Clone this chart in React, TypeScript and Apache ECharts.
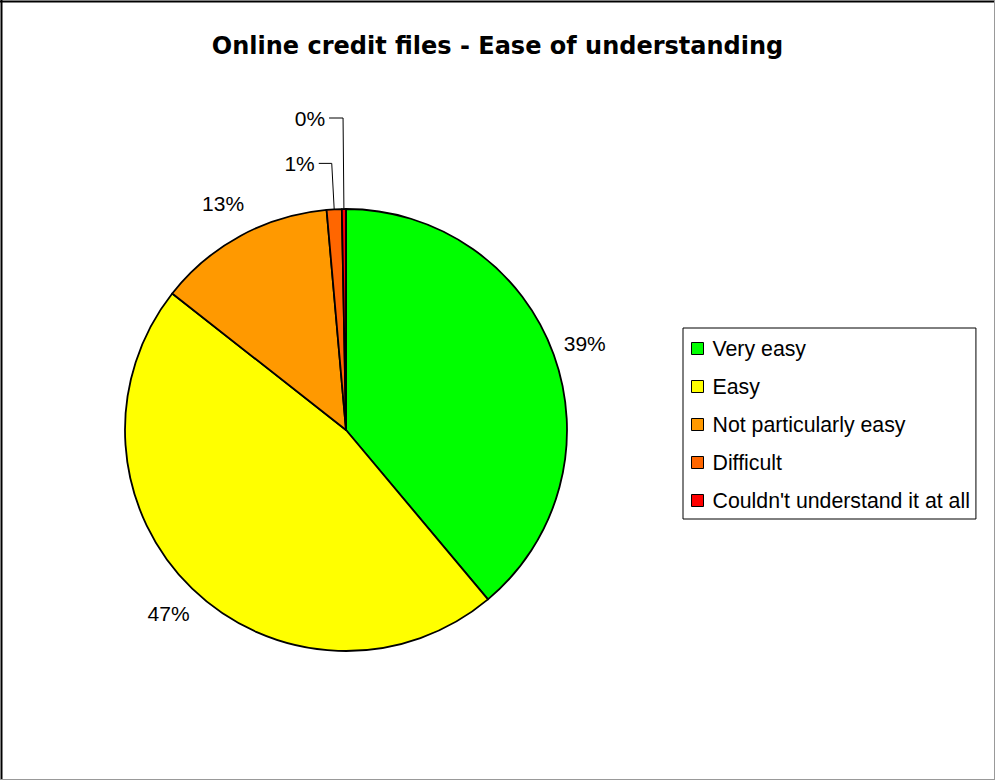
import React, { useEffect, useRef } from "react";
import * as echarts from "echarts";

// Survey answers, clockwise from 12 o'clock
const categories = [
  "Very easy",
  "Easy",
  "Not particularly easy",
  "Difficult",
  "Couldn't understand it at all",
];
const shares = [38.9, 46.7, 13.0, 1.1, 0.3];

const TITLE = "Online credit files - Ease of understanding";

// Styling
const sliceColors = ["#00FF00", "#FFFF00", "#FF9900", "#FF6600", "#FF0000"];
const FONT = "'Liberation Sans', Arial, Helvetica, sans-serif";
const TITLE_FONT = "'DejaVu Sans', 'Liberation Sans', Arial, sans-serif";
// Slices this thin get their label pulled out on a leader line
const LEADER_LIMIT = 5;
const lineLength = [33, 34, 37, 46, 91];
const lineLength2 = [0, 0, 0, 13, 14];
const labelGap = [0, 0, 0, 4, 4];

const hasLeader = (v: number) => v < LEADER_LIMIT;

export default function App() {
  const ref = useRef<HTMLDivElement>(null);

  useEffect(() => {
    if (!ref.current) return;
    const chart = echarts.init(ref.current, undefined, { renderer: "svg" });

    const data = categories.map((name, i) => {
      const leader = hasLeader(shares[i]);
      return {
        name,
        value: shares[i],
        itemStyle: { color: sliceColors[i] },
        label: { distanceToLabelLine: labelGap[i] },
        labelLine: {
          show: leader,
          length: lineLength[i],
          length2: lineLength2[i],
        },
      };
    });

    chart.setOption({
      animation: false,
      backgroundColor: "#ffffff",
      title: {
        text: TITLE,
        left: "center",
        top: 29,
        textStyle: {
          fontFamily: TITLE_FONT,
          fontSize: 24,
          fontWeight: "bold",
          color: "#000",
        },
      },
      legend: {
        orient: "vertical",
        left: 683,
        top: 328,
        padding: [10, 6, 8, 8],
        itemGap: 17,
        itemWidth: 12,
        itemHeight: 12,
        icon: "rect",
        borderColor: "#000",
        borderWidth: 1,
        backgroundColor: "#fff",
        itemStyle: { borderColor: "#000", borderWidth: 1 },
        textStyle: {
          fontFamily: FONT,
          fontSize: 21.3,
          lineHeight: 21,
          color: "#000",
          padding: [0, 0, 0, 4],
        },
        data: categories,
      },
      series: [
        {
          type: "pie",
          center: [346, 430],
          radius: 221,
          startAngle: 90,
          clockwise: true,
          avoidLabelOverlap: false,
          percentPrecision: 0,
          itemStyle: { borderColor: "#000", borderWidth: 1.8 },
          emphasis: { disabled: true },
          label: {
            show: true,
            position: "outside",
            formatter: "{d}%",
            fontFamily: FONT,
            fontSize: 21,
            color: "#000",
          },
          labelLine: {
            lineStyle: { color: "#000", width: 1 },
            smooth: false,
          },
          labelLayout: (p: any) =>
            hasLeader(shares[p.dataIndex])
              ? {}
              : { align: "center", verticalAlign: "middle" },
          data,
        },
      ],
      graphic: [
        {
          type: "line",
          shape: { x1: 0, y1: 1.5, x2: 994, y2: 1.5 },
          style: { stroke: "#000", lineWidth: 2 },
        },
        {
          type: "line",
          shape: { x1: 1.5, y1: 0, x2: 1.5, y2: 780 },
          style: { stroke: "#000", lineWidth: 2 },
        },
        {
          type: "line",
          shape: { x1: 994.5, y1: 0, x2: 994.5, y2: 780 },
          style: { stroke: "#999", lineWidth: 1 },
        },
        {
          type: "line",
          shape: { x1: 0, y1: 779.5, x2: 995, y2: 779.5 },
          style: { stroke: "#999", lineWidth: 1 },
        },
      ],
    });

    return () => chart.dispose();
  }, []);

  return (
    <div
      ref={ref}
      style={{ position: "absolute", left: 0, top: 0, width: 995, height: 780 }}
    />
  );
}
